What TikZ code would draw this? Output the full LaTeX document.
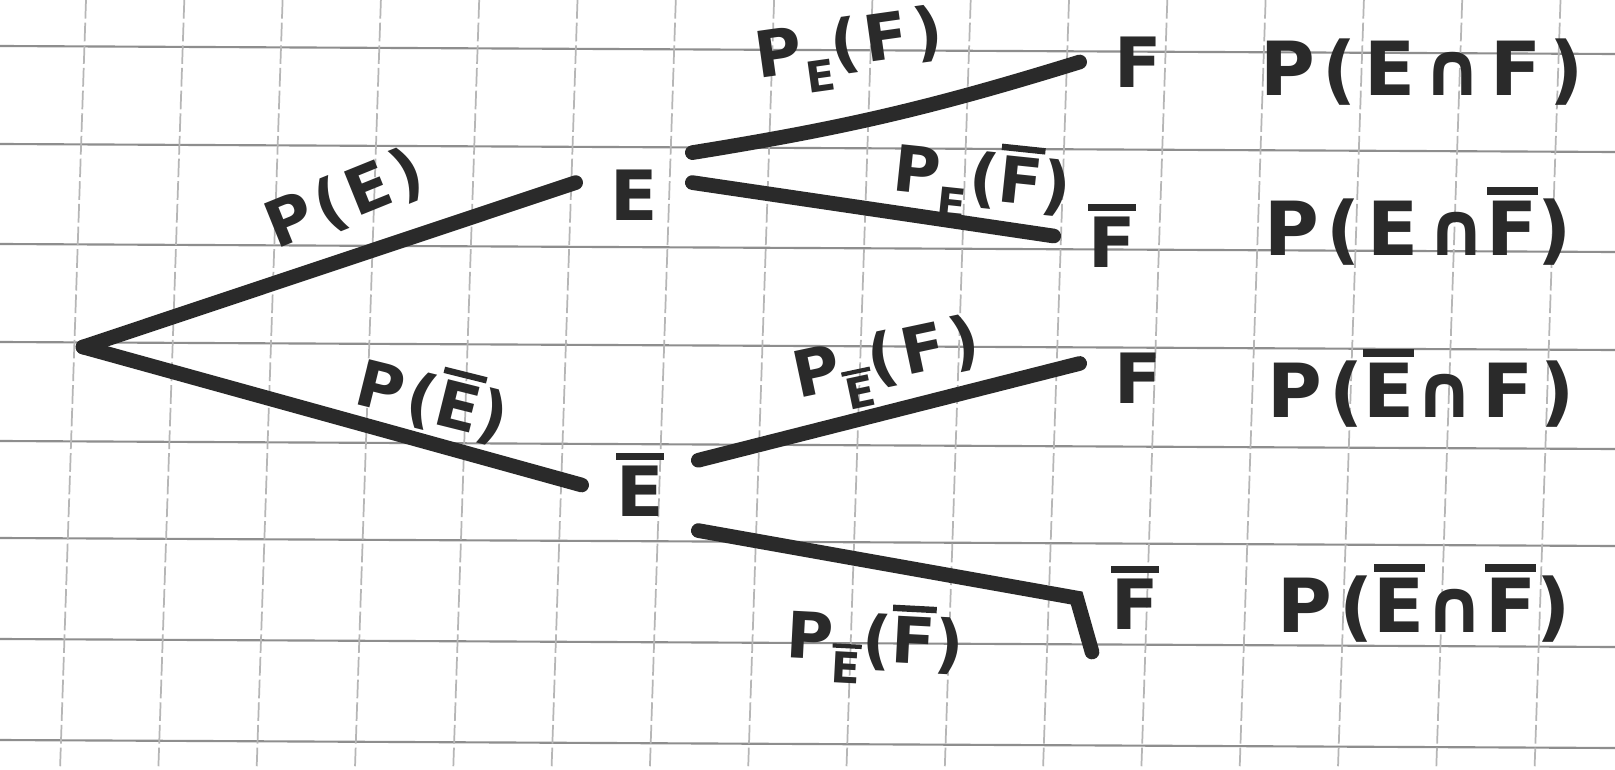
\documentclass[tikz,border=0pt]{standalone}
\usepackage{fontspec}
\setmainfont{DejaVu Sans}
\definecolor{ink}{HTML}{2A2A2A}
\definecolor{paper}{HTML}{8E8E8E}
\newcommand{\ov}[1]{\vbox{\hrule height 0.1em\kern 0.08em\hbox{#1}}}
\newcommand{\lowsub}[1]{\raisebox{-0.35em}{\fontsize{32}{34}\selectfont #1}}
\tikzset{
	grid row/.style={draw=paper, line width=1.6},
	grid col/.style={draw=paper!65, line width=1.3, dash pattern=on 14pt off 3pt},
	branch/.style={draw=ink, line width=11, line cap=round},
	outcome/.style={font=\fontsize{52}{56}\selectfont\bfseries, text=ink, inner sep=0pt, outer sep=26pt},
	prob/.style={font=\fontsize{48}{52}\selectfont\bfseries\addfontfeature{LetterSpace=8}, text=ink, inner sep=0pt},
	joint/.style={font=\fontsize{56}{60}\selectfont\bfseries\addfontfeature{LetterSpace=10}, text=ink, inner sep=0pt}}

\begin{document}
\begin{tikzpicture}[x=0.75pt,y=0.75pt,yscale=-1,xscale=1]
	\useasboundingbox (0,0) rectangle (1615,770);
	\fill[white] (0,0) rectangle (1615,770);

	% Paper grid
	\foreach \y in {46,144,244,342,441,538,639,740}
		\draw[grid row] (0,\y) -- (1615,\y+8);
	\foreach \i in {0,...,15}
		\draw[grid col] (60+98.3*\i+26,0) -- (60+98.3*\i,770);

	% Root and outcomes
	\coordinate (root) at (83,347);
	\node[outcome] (nE) at (634,195) {E};
	\node[outcome] (nEb) at (640,485) {\ov{E}};
	\node[outcome] (nF1) at (1138,62) {F};
	\node[outcome] (nFb1) at (1112,236) {\ov{F}};
	\node[outcome] (nF2) at (1138,378) {F};
	\node[outcome] (nFb2) at (1135,598) {\ov{F}};
	\coordinate (tick) at (1092,652);

	% Branches
	\draw[branch] (root) -- (nE.168);
	\draw[branch] (root) -- (nEb.west);
	\draw[branch] (nE.36) to[bend left=4] (nF1.west);
	\draw[branch] (nE.12) -- (nFb1.west);
	\draw[branch] (nEb.23) -- (nF2.166);
	\draw[branch] (nEb.-38) -- (nFb2.west) -- (tick);

	% Branch probabilities
	\node[prob, rotate=22] (lE) at (345,200) {P(E)};
	\node[prob, rotate=-14] (lEb) at (433,398) {P(\ov{E})};
	\node[prob, rotate=8] (lEF) at (850,52) {P\lowsub{E}(F)};
	\node[prob, rotate=-6] (lEFb) at (982,182) {P\lowsub{E}(\ov{F})};
	\node[prob, rotate=12] (lEbF) at (888,366) {P\lowsub{\ov{E}}(F)};
	\node[prob, rotate=-3] (lEbFb) at (875,644) {P\lowsub{\ov{E}}(\ov{F})};

	% Joint probabilities
	\node[joint] (jEF) at (1422,72) {P(E∩F)};
	\node[joint] (jEFb) at (1418,226) {P(E∩\ov{F})};
	\node[joint] (jEbF) at (1421,388) {P(\ov{E}∩F)};
	\node[joint] (jEbFb) at (1424,603) {P(\ov{E}∩\ov{F})};
\end{tikzpicture}
\end{document}
